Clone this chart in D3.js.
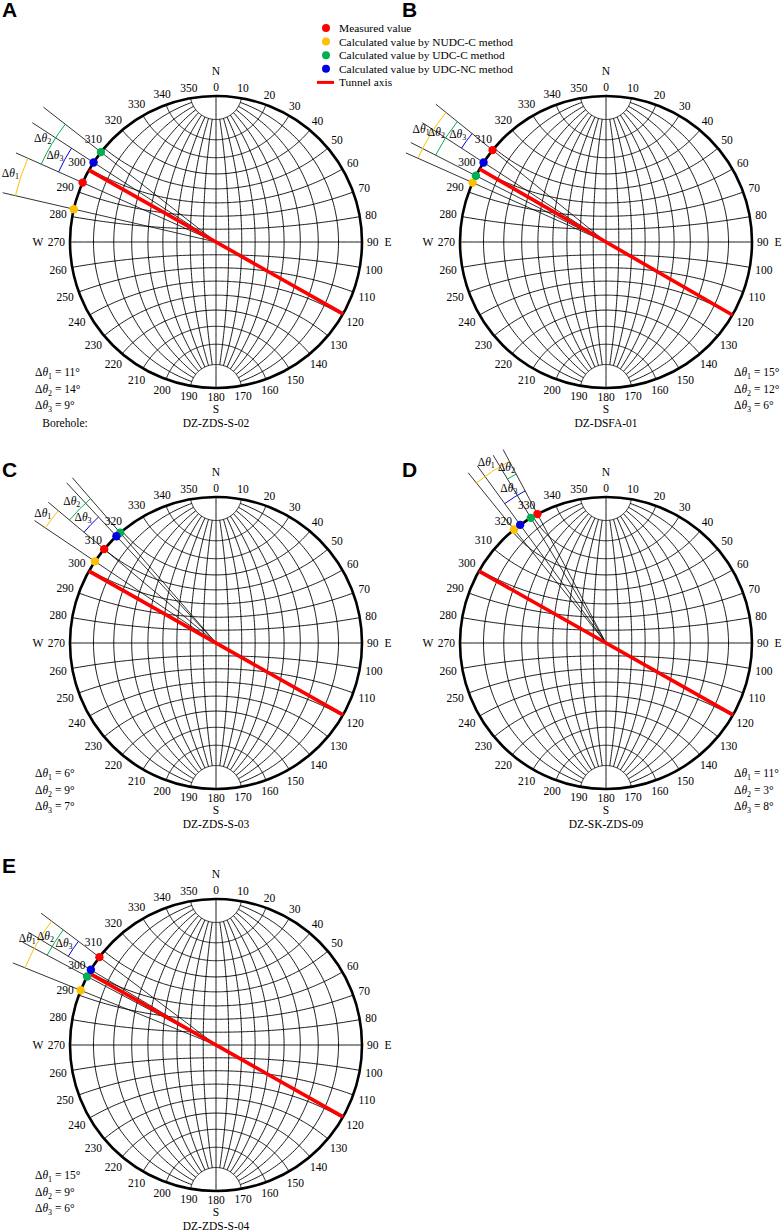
<!DOCTYPE html>
<html>
<head>
<meta charset="utf-8">
<script src="https://cdn.jsdelivr.net/npm/d3@7"></script>
<style>
  body { margin: 0; background: #fff; }
  text { font-family: "Liberation Serif", "Times New Roman", serif; fill: #000; }
  text.panel-letter { font-family: "Liberation Sans", Arial, sans-serif; font-weight: bold; }
</style>
</head>
<body>
<script>
// stereonet panels: measured vs calculated borehole azimuths

var panelLetters = ["A", "B", "C", "D", "E"]
var boreholes = ["DZ-ZDS-S-02", "DZ-DSFA-01", "DZ-ZDS-S-03", "DZ-SK-ZDS-09", "DZ-ZDS-S-04"]

// azimuths in degrees
var measured = [294, 309, 310, 332, 307]
var nudcC    = [283, 294, 304, 321, 292]
var udcC     = [308, 297, 319, 329, 298]
var udcNC    = [303, 303, 317, 324, 301]
var tunnelAxis = [299.5, 300, 299.5, 299.5, 299.5]

var dTheta1 = [11, 15, 6, 11, 15]
var dTheta2 = [14, 12, 9, 3, 9]
var dTheta3 = [9, 6, 7, 8, 6]

var azimuthTicks = [0, 10, 20, 30, 40, 50, 60, 70, 80, 90, 100, 110, 120, 130, 140, 150, 160, 170,
                    180, 190, 200, 210, 220, 230, 240, 250, 260, 270, 280, 290, 300, 310, 320, 330, 340, 350]

var legendItems = ["Measured value", "Calculated value by NUDC-C method",
                   "Calculated value by UDC-C method", "Calculated value by UDC-NC method", "Tunnel axis"]

var colors = {measured: "#ff0000", nudc: "#ffc000", udc: "#00b050", udcnc: "#0000e0", axis: "#ff0000"}

var screen = {width: 782, height: 1231}
var R = 146

var svg = d3.select("body")
    .append("svg")
    .attr("width", screen.width)
    .attr("height", screen.height)
    .attr("font-family", "Liberation Serif, Times New Roman, serif")

// panel layout: 2 columns, 3 rows
var colX = [216, 606]
var rowY = [242, 643, 1045]
var letterY = [17, 477, 873]

// azimuth (deg, clockwise from N) -> point at radius r
var polar = function(az, r)
{
    var a = (az - 90) * Math.PI / 180
    return [r * Math.cos(a), r * Math.sin(a)]
}

// graticule lines of a Wulff net (equatorial stereographic)
var netLines = function()
{
    var lines = []
    for (var lon = -80; lon <= 80; lon += 10) {
        var top = lon === 0 ? 90 : 80
        var coords = []
        for (var lat = -top; lat <= top; lat += 1) coords.push([lon, lat])
        lines.push({type: "LineString", coordinates: coords})
    }
    for (var lat = -80; lat <= 80; lat += 10) {
        var coords = []
        for (var lon = -90; lon <= 90; lon += 1) coords.push([lon, lat])
        lines.push({type: "LineString", coordinates: coords})
    }
    return lines
}

// label offset so the text's near edge sits just outside the circle
var labelPos = function(d)
{
    var a = d * Math.PI / 180
    var w = String(d).length * 5.8
    var off = R + 5 + Math.abs(Math.sin(a)) * w / 2 + Math.abs(Math.cos(a)) * 4
    return polar(d, off)
}

var deltaText = function(sel, k)
{
    sel.append("tspan").text("\u0394")
    sel.append("tspan").style("font-style", "italic").text("\u03b8")
    sel.append("tspan").attr("dy", 3).style("font-size", "8px").text(k)
}

var drawPanel = function(i)
{
    var cx = colX[i % 2]
    var cy = rowY[Math.floor(i / 2)]
    var right = i % 2 === 1

    var g = svg.append("g")
        .attr("class", "panel")
        .attr("transform", "translate(" + cx + "," + cy + ")")

    var proj = d3.geoStereographic()
        .rotate([0, 0])
        .scale(R)
        .translate([0, 0])
        .clipAngle(90)
    var path = d3.geoPath(proj)

    g.selectAll("path.grid")
        .data(netLines())
        .enter()
        .append("path")
        .attr("class", "grid")
        .attr("d", path)
        .attr("fill", "none")
        .attr("stroke", "#000")
        .attr("stroke-width", 0.9)

    g.append("circle")
        .attr("r", R)
        .attr("fill", "none")
        .attr("stroke", "#000")
        .attr("stroke-width", 2.6)

    // azimuth labels
    g.selectAll("text.tick")
        .data(azimuthTicks)
        .enter()
        .append("text")
        .attr("class", "tick")
        .attr("x", function(d) { return labelPos(d)[0] })
        .attr("y", function(d) { return labelPos(d)[1] })
        .attr("text-anchor", "middle")
        .attr("dominant-baseline", "central")
        .style("font-size", "11.5px")
        .text(function(d) { return d })

    var dirs = [{t: "N", x: 0, y: -R - 25}, {t: "S", x: 0, y: R + 21},
                {t: "E", x: R + 26, y: 0}, {t: "W", x: -R - 32, y: 0}]
    g.selectAll("text.dir")
        .data(dirs)
        .enter()
        .append("text")
        .attr("class", "dir")
        .attr("x", function(d) { return d.x })
        .attr("y", function(d) { return d.y })
        .attr("text-anchor", "middle")
        .attr("dominant-baseline", "central")
        .style("font-size", "11.5px")
        .text(function(d) { return d.t })

    // radial lines from the centre through each azimuth
    var pts = [
        {az: measured[i], c: colors.measured},
        {az: nudcC[i], c: colors.nudc},
        {az: udcC[i], c: colors.udc},
        {az: udcNC[i], c: colors.udcnc}
    ]
    g.selectAll("line.ray")
        .data(pts)
        .enter()
        .append("line")
        .attr("class", "ray")
        .attr("x1", 0).attr("y1", 0)
        .attr("x2", function(d) { return polar(d.az, R * 1.5)[0] })
        .attr("y2", function(d) { return polar(d.az, R * 1.5)[1] })
        .attr("stroke", "#000")
        .attr("stroke-width", 0.8)

    // tunnel axis
    var a1 = polar(tunnelAxis[i], R), a2 = polar(tunnelAxis[i] - 180, R)
    g.append("line")
        .attr("x1", a1[0]).attr("y1", a1[1])
        .attr("x2", a2[0]).attr("y2", a2[1])
        .attr("stroke", colors.axis)
        .attr("stroke-width", 3.6)

    // delta theta arcs
    var arcs = [
        {from: nudcC[i], r: R * 1.41, c: colors.nudc, k: 1},
        {from: udcC[i], r: R * 1.31, c: colors.udc, k: 2},
        {from: udcNC[i], r: R * 1.18, c: colors.udcnc, k: 3}
    ]
    arcs.forEach(function(d)
    {
        var lo = Math.min(d.from, measured[i]), hi = Math.max(d.from, measured[i])
        var p = d3.path()
        p.arc(0, 0, d.r, (lo - 90) * Math.PI / 180, (hi - 90) * Math.PI / 180)
        g.append("path")
            .attr("d", p.toString())
            .attr("fill", "none")
            .attr("stroke", d.c)
            .attr("stroke-width", 1)

        var lp = polar((lo + hi) / 2, d.r + 11)
        var t = g.append("text")
            .attr("x", lp[0])
            .attr("y", lp[1])
            .attr("text-anchor", "middle")
            .attr("dominant-baseline", "central")
            .style("font-size", "11.5px")
        deltaText(t, d.k)
    })

    // dots on the primitive circle
    g.selectAll("circle.dot")
        .data(pts)
        .enter()
        .append("circle")
        .attr("class", "dot")
        .attr("cx", function(d) { return polar(d.az, R)[0] })
        .attr("cy", function(d) { return polar(d.az, R)[1] })
        .attr("r", 4.2)
        .attr("fill", function(d) { return d.c })

    // delta theta values
    var vals = [dTheta1[i], dTheta2[i], dTheta3[i]]
    var tx = right ? R - 18 : -R - 35
    vals.forEach(function(v, k)
    {
        var t = g.append("text")
            .attr("x", tx)
            .attr("y", R - 12 + k * 16.7)
            .style("font-size", "11.5px")
        deltaText(t, k + 1)
        t.append("tspan").attr("dy", -3).text(" = " + v + "\u00b0")
    })

    g.append("text")
        .attr("x", 0)
        .attr("y", R + 35)
        .attr("text-anchor", "middle")
        .attr("dominant-baseline", "central")
        .style("font-size", "11.5px")
        .text(boreholes[i])

    if (i === 0) {
        g.append("text")
            .attr("x", -R - 5)
            .attr("y", R + 35)
            .attr("text-anchor", "middle")
            .attr("dominant-baseline", "central")
            .style("font-size", "11.5px")
            .text("Borehole:")
    }

    svg.append("text")
        .attr("class", "panel-letter")
        .attr("x", right ? 402 : 2)
        .attr("y", letterY[Math.floor(i / 2)])
        .style("font-size", "21px")
        .text(panelLetters[i])
}

for (var i = 0; i < panelLetters.length; i++) drawPanel(i)

// legend
var legend = svg.append("g").attr("transform", "translate(326,28)")
var legendColors = [colors.measured, colors.nudc, colors.udc, colors.udcnc]
legend.selectAll("circle")
    .data(legendColors)
    .enter()
    .append("circle")
    .attr("cx", 0)
    .attr("cy", function(d, k) { return k * 13.6 })
    .attr("r", 4)
    .attr("fill", function(d) { return d })
legend.append("line")
    .attr("x1", -9).attr("x2", 8)
    .attr("y1", 4 * 13.6).attr("y2", 4 * 13.6)
    .attr("stroke", colors.axis)
    .attr("stroke-width", 3)
legend.selectAll("text")
    .data(legendItems)
    .enter()
    .append("text")
    .attr("x", 13)
    .attr("y", function(d, k) { return k * 13.6 })
    .attr("dominant-baseline", "central")
    .style("font-size", "11.4px")
    .text(function(d) { return d })
</script>
</body>
</html>
